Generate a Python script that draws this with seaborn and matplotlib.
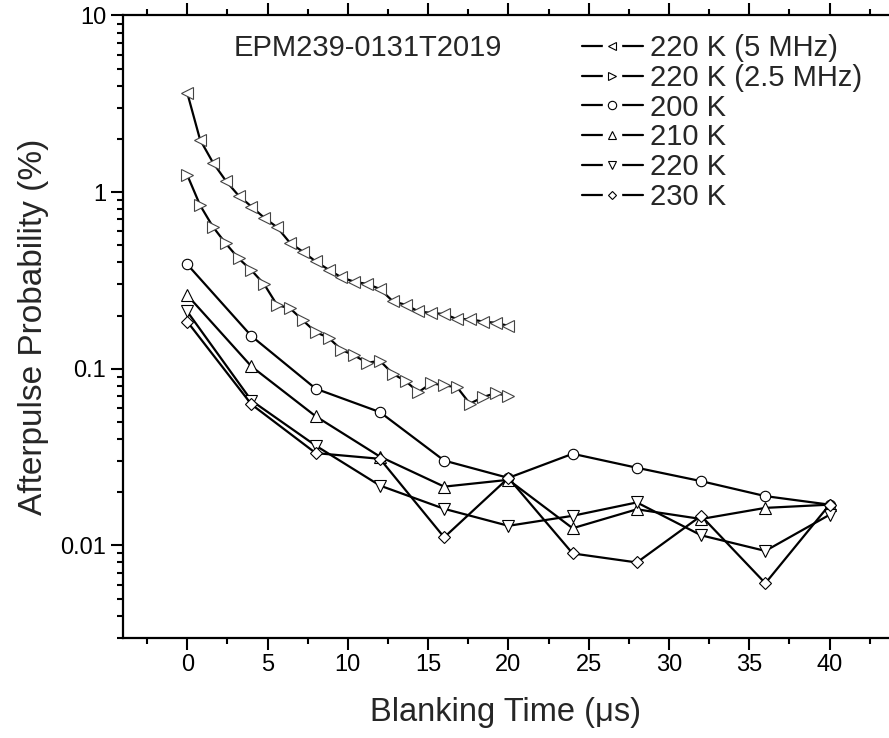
import numpy as np
import pandas as pd
import seaborn as sns
import matplotlib.pyplot as plt
from matplotlib.lines import Line2D
from matplotlib.ticker import MultipleLocator, LogLocator, NullFormatter

## data
time_dense = [0, 0.8, 1.6, 2.4, 3.2, 4.0, 4.8, 5.6, 6.4, 7.2, 8.0, 8.8, 9.6,
              10.4, 11.2, 12.0, 12.8, 13.6, 14.4, 15.2, 16.0, 16.8, 17.6, 18.4, 19.2, 20.0]
ap_220k_5mhz = [3.65, 1.98, 1.47, 1.16, 0.955, 0.828, 0.715, 0.632, 0.516, 0.46, 0.405, 0.364, 0.329,
                0.311, 0.302, 0.283, 0.241, 0.230, 0.211, 0.207, 0.204, 0.191, 0.191, 0.185, 0.182, 0.175]
ap_220k_2p5mhz = [1.25, 0.843, 0.636, 0.512, 0.421, 0.361, 0.30, 0.229, 0.22, 0.188, 0.161, 0.150, 0.128,
                  0.119, 0.108, 0.111, 0.0937, 0.0851, 0.0737, 0.0828, 0.0804, 0.0787, 0.0634, 0.069, 0.0728, 0.070]

time_sparse = [0, 4, 8, 12, 16, 20, 24, 28, 32, 36, 40]
ap_200k = [0.39, 0.153, 0.0771, 0.0568, 0.0302, 0.0241, 0.033, 0.0275, 0.0231, 0.019, 0.017]
ap_210k = [0.261, 0.103, 0.0538, 0.0318, 0.0215, 0.0235, 0.0125, 0.016, 0.0141, 0.0163, 0.017]
ap_220k = [0.211, 0.066, 0.0367, 0.0218, 0.0161, 0.0129, 0.0147, 0.0175, 0.0114, 0.0093, 0.0149]
ap_230k = [0.185, 0.0628, 0.0333, 0.0309, 0.0111, 0.0241, 0.009, 0.008, 0.0147, 0.0061, 0.017]

labels = ["220 K (5 MHz)", "220 K (2.5 MHz)", "200 K", "210 K", "220 K", "230 K"]
times = [time_dense, time_dense, time_sparse, time_sparse, time_sparse, time_sparse]
values = [ap_220k_5mhz, ap_220k_2p5mhz, ap_200k, ap_210k, ap_220k, ap_230k]
markers = ["<", ">", "o", "^", "v", "D"]
marker_sizes = [8, 8, 7.5, 8.5, 8.5, 6.2]
edge_colors = ["#444444", "#444444", "k", "k", "k", "k"]

sns.set_style("ticks")
plt.rcParams["font.family"] = ["Liberation Sans", "DejaVu Sans"]

fig = plt.figure(figsize=(8.89, 7.38), dpi=100)
ax = fig.add_axes([123 / 889, 0.1359, 1 - 123 / 889, 0.8431])

for label, t, ap, m, ms, ec in zip(labels, times, values, markers, marker_sizes, edge_colors):
    df = pd.DataFrame({"time": t, "ap": ap})
    sns.lineplot(
        data=df, x="time", y="ap", ax=ax,
        color="k", lw=1.6, marker=m, markersize=ms,
        markerfacecolor="w", markeredgecolor=ec, markeredgewidth=0.8,
        label=label, sort=False,
    )

ax.set_yscale("log")
ax.set_ylim(0.003, 10)
ax.set_xlim(-4.0, 43.7)

ax.set_xticks([0, 5, 10, 15, 20, 25, 30, 35, 40])
ax.xaxis.set_minor_locator(MultipleLocator(2.5))
ax.set_yticks([0.01, 0.1, 1, 10])
ax.set_yticklabels(["0.01", "0.1", "1", "10"])
ax.yaxis.set_minor_locator(LogLocator(base=10, subs=np.arange(2, 10)))
ax.yaxis.set_minor_formatter(NullFormatter())

ax.tick_params(which="both", direction="out", top=True, right=False,
               labeltop=False, width=1.5, labelsize=17, colors="k")
ax.tick_params(which="major", length=8.5)
ax.tick_params(which="minor", length=4.5)

for s in ["left", "bottom", "top"]:
    ax.spines[s].set_linewidth(1.6)
    ax.spines[s].set_color("k")
ax.spines["right"].set_visible(False)

ax.set_xlabel("Blanking Time (\u03bcs)", fontsize=23.5, labelpad=15)
ax.set_ylabel("Afterpulse Probability (%)", fontsize=24, labelpad=8)

ax.text(0.144, 0.948, "EPM239-0131T2019", transform=ax.transAxes,
        fontsize=21, ha="left", va="center")

# origin style legend: line - gap - small open marker - gap - line
handles = []
for m in markers:
    small = 6 if m != "D" else 4.3
    handles.append((
        Line2D([0], [0], color="k", lw=1.6, marker="o", ms=13, mfc="w", mec="w"),
        Line2D([0], [0], ls="", marker=m, ms=small, mfc="w", mec="k", mew=0.8),
    ))
ax.legend(
    handles, labels,
    loc="upper left", bbox_to_anchor=(0.599, 0.97),
    frameon=False, fontsize=21, handlelength=2.1, handletextpad=0.25,
    labelspacing=0.06, borderpad=0, borderaxespad=0,
)

fig.savefig("out.png", dpi=100)
